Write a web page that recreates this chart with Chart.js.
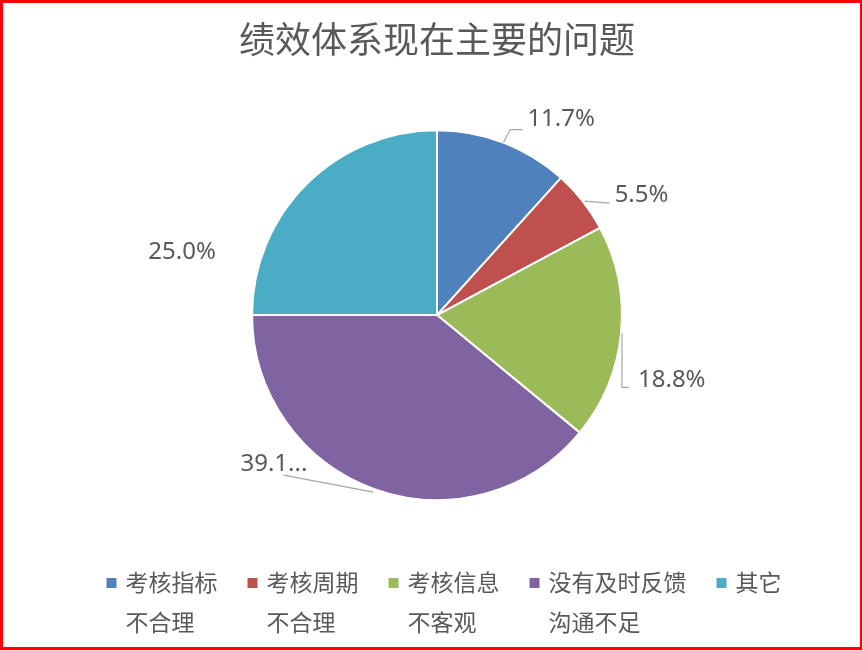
<!DOCTYPE html>
<html>
<head>
<meta charset="utf-8">
<script src="https://cdn.jsdelivr.net/npm/chart.js@4/dist/chart.umd.min.js"></script>
<style>
  html, body { margin: 0; padding: 0; background: #fff; }
  #wrap { position: absolute; left: 0; top: 0; width: 862px; height: 650px; }
  #frame {
    position: absolute; left: 0; top: 0; width: 862px; height: 650px;
    box-sizing: border-box; border: 3px solid #ff0000; border-right-width: 2px;
    pointer-events: none;
  }
</style>
</head>
<body>
<div id="wrap">
  <canvas id="mainChart" width="862" height="650"></canvas>
  <div id="frame"></div>
</div>
<script>
// categories: first and second line of each legend label
const labelLine1 = ['考核指标', '考核周期', '考核信息', '没有及时反馈', '其它'];
const labelLine2 = ['不合理', '不合理', '不客观', '沟通不足', ''];
const shares = [11.7, 5.5, 18.8, 39.1, 25.0];
const dataLabels = ['11.7%', '5.5%', '18.8%', '39.1...', '25.0%'];
const colors = ['#4F81BD', '#C0504D', '#9BBB59', '#8064A2', '#4BACC6'];

// label placement relative to the arc point at each slice's middle angle
const labelLayout = [
  { path: [[0, 0], [7, -13], [19, -13]], text: [24, -23] },
  { path: [[2, 0], [27, 2]], text: [32, -6] },
  { path: [[1, 0], [1, 54], [8, 54]], text: [17, 47] },
  { path: [[-1, 3], [-91, -14]], text: [-134, -25] },
  { path: [], text: [-158, 68] }
];

const textColor = '#595959';
const numFont = '24px "Noto Sans", "Noto Sans CJK SC", sans-serif';
const cjkFont = '23px "Noto Sans CJK SC", sans-serif';

const pieLabels = {
  id: 'pieLabels',
  afterDatasetsDraw(chart) {
    const ctx = chart.ctx;
    const meta = chart.getDatasetMeta(0);
    ctx.save();
    meta.data.forEach(function(arc, i) {
      const p = arc.getProps(['x', 'y', 'startAngle', 'endAngle', 'outerRadius'], true);
      const mid = (p.startAngle + p.endAngle) / 2;
      const ax = p.x + Math.cos(mid) * p.outerRadius;
      const ay = p.y + Math.sin(mid) * p.outerRadius;
      const lay = labelLayout[i];
      if (lay.path.length) {
        ctx.beginPath();
        ctx.strokeStyle = '#A6A6A6';
        ctx.lineWidth = 1.2;
        lay.path.forEach(function(pt, k) {
          if (k === 0) ctx.moveTo(ax + pt[0], ay + pt[1]);
          else ctx.lineTo(ax + pt[0], ay + pt[1]);
        });
        ctx.stroke();
      }
      ctx.fillStyle = textColor;
      ctx.font = numFont;
      ctx.textAlign = 'left';
      ctx.textBaseline = 'middle';
      ctx.fillText(dataLabels[i], ax + lay.text[0], ay + lay.text[1]);
    });
    ctx.restore();
  }
};

const twoLineLegend = {
  id: 'twoLineLegend',
  afterDraw(chart) {
    const ctx = chart.ctx;
    const box = 10, gapBox = 9, gapItem = 30;
    const centerX = 444, y1 = 582, y2 = 622;
    ctx.save();
    ctx.font = cjkFont;
    const widths = labelLine1.map(function(t, i) {
      return Math.max(ctx.measureText(t).width, ctx.measureText(labelLine2[i]).width);
    });
    let total = 0;
    widths.forEach(function(w, i) {
      total += box + gapBox + w + (i < widths.length - 1 ? gapItem : 0);
    });
    let x = centerX - total / 2;
    ctx.textAlign = 'left';
    ctx.textBaseline = 'middle';
    labelLine1.forEach(function(t, i) {
      ctx.fillStyle = colors[i];
      ctx.fillRect(x, y1 - box / 2 + 1, box, box);
      ctx.fillStyle = textColor;
      ctx.fillText(t, x + box + gapBox, y1);
      ctx.fillText(labelLine2[i], x + box + gapBox, y2);
      x += box + gapBox + widths[i] + gapItem;
    });
    ctx.restore();
  }
};

const data = {
  labels: labelLine1.map(function(t, i) { return t + labelLine2[i]; }),
  datasets: [{
    data: shares,
    backgroundColor: colors,
    borderColor: '#ffffff',
    borderWidth: 2
  }]
};

const config = {
  type: 'pie',
  data: data,
  options: {
    responsive: false,
    animation: false,
    layout: { padding: { top: 0, left: 12, right: 0, bottom: 149 } },
    plugins: {
      legend: { display: false },
      tooltip: { enabled: false },
      title: {
        display: true,
        text: '绩效体系现在主要的问题',
        color: textColor,
        font: { family: '"Noto Sans CJK SC", sans-serif', size: 36, weight: 'normal', lineHeight: 1.2 },
        padding: { top: 18, bottom: 68 }
      }
    }
  },
  plugins: [pieLabels, twoLineLegend]
};

const myChart = new Chart(document.getElementById('mainChart'), config);
</script>
</body>
</html>
